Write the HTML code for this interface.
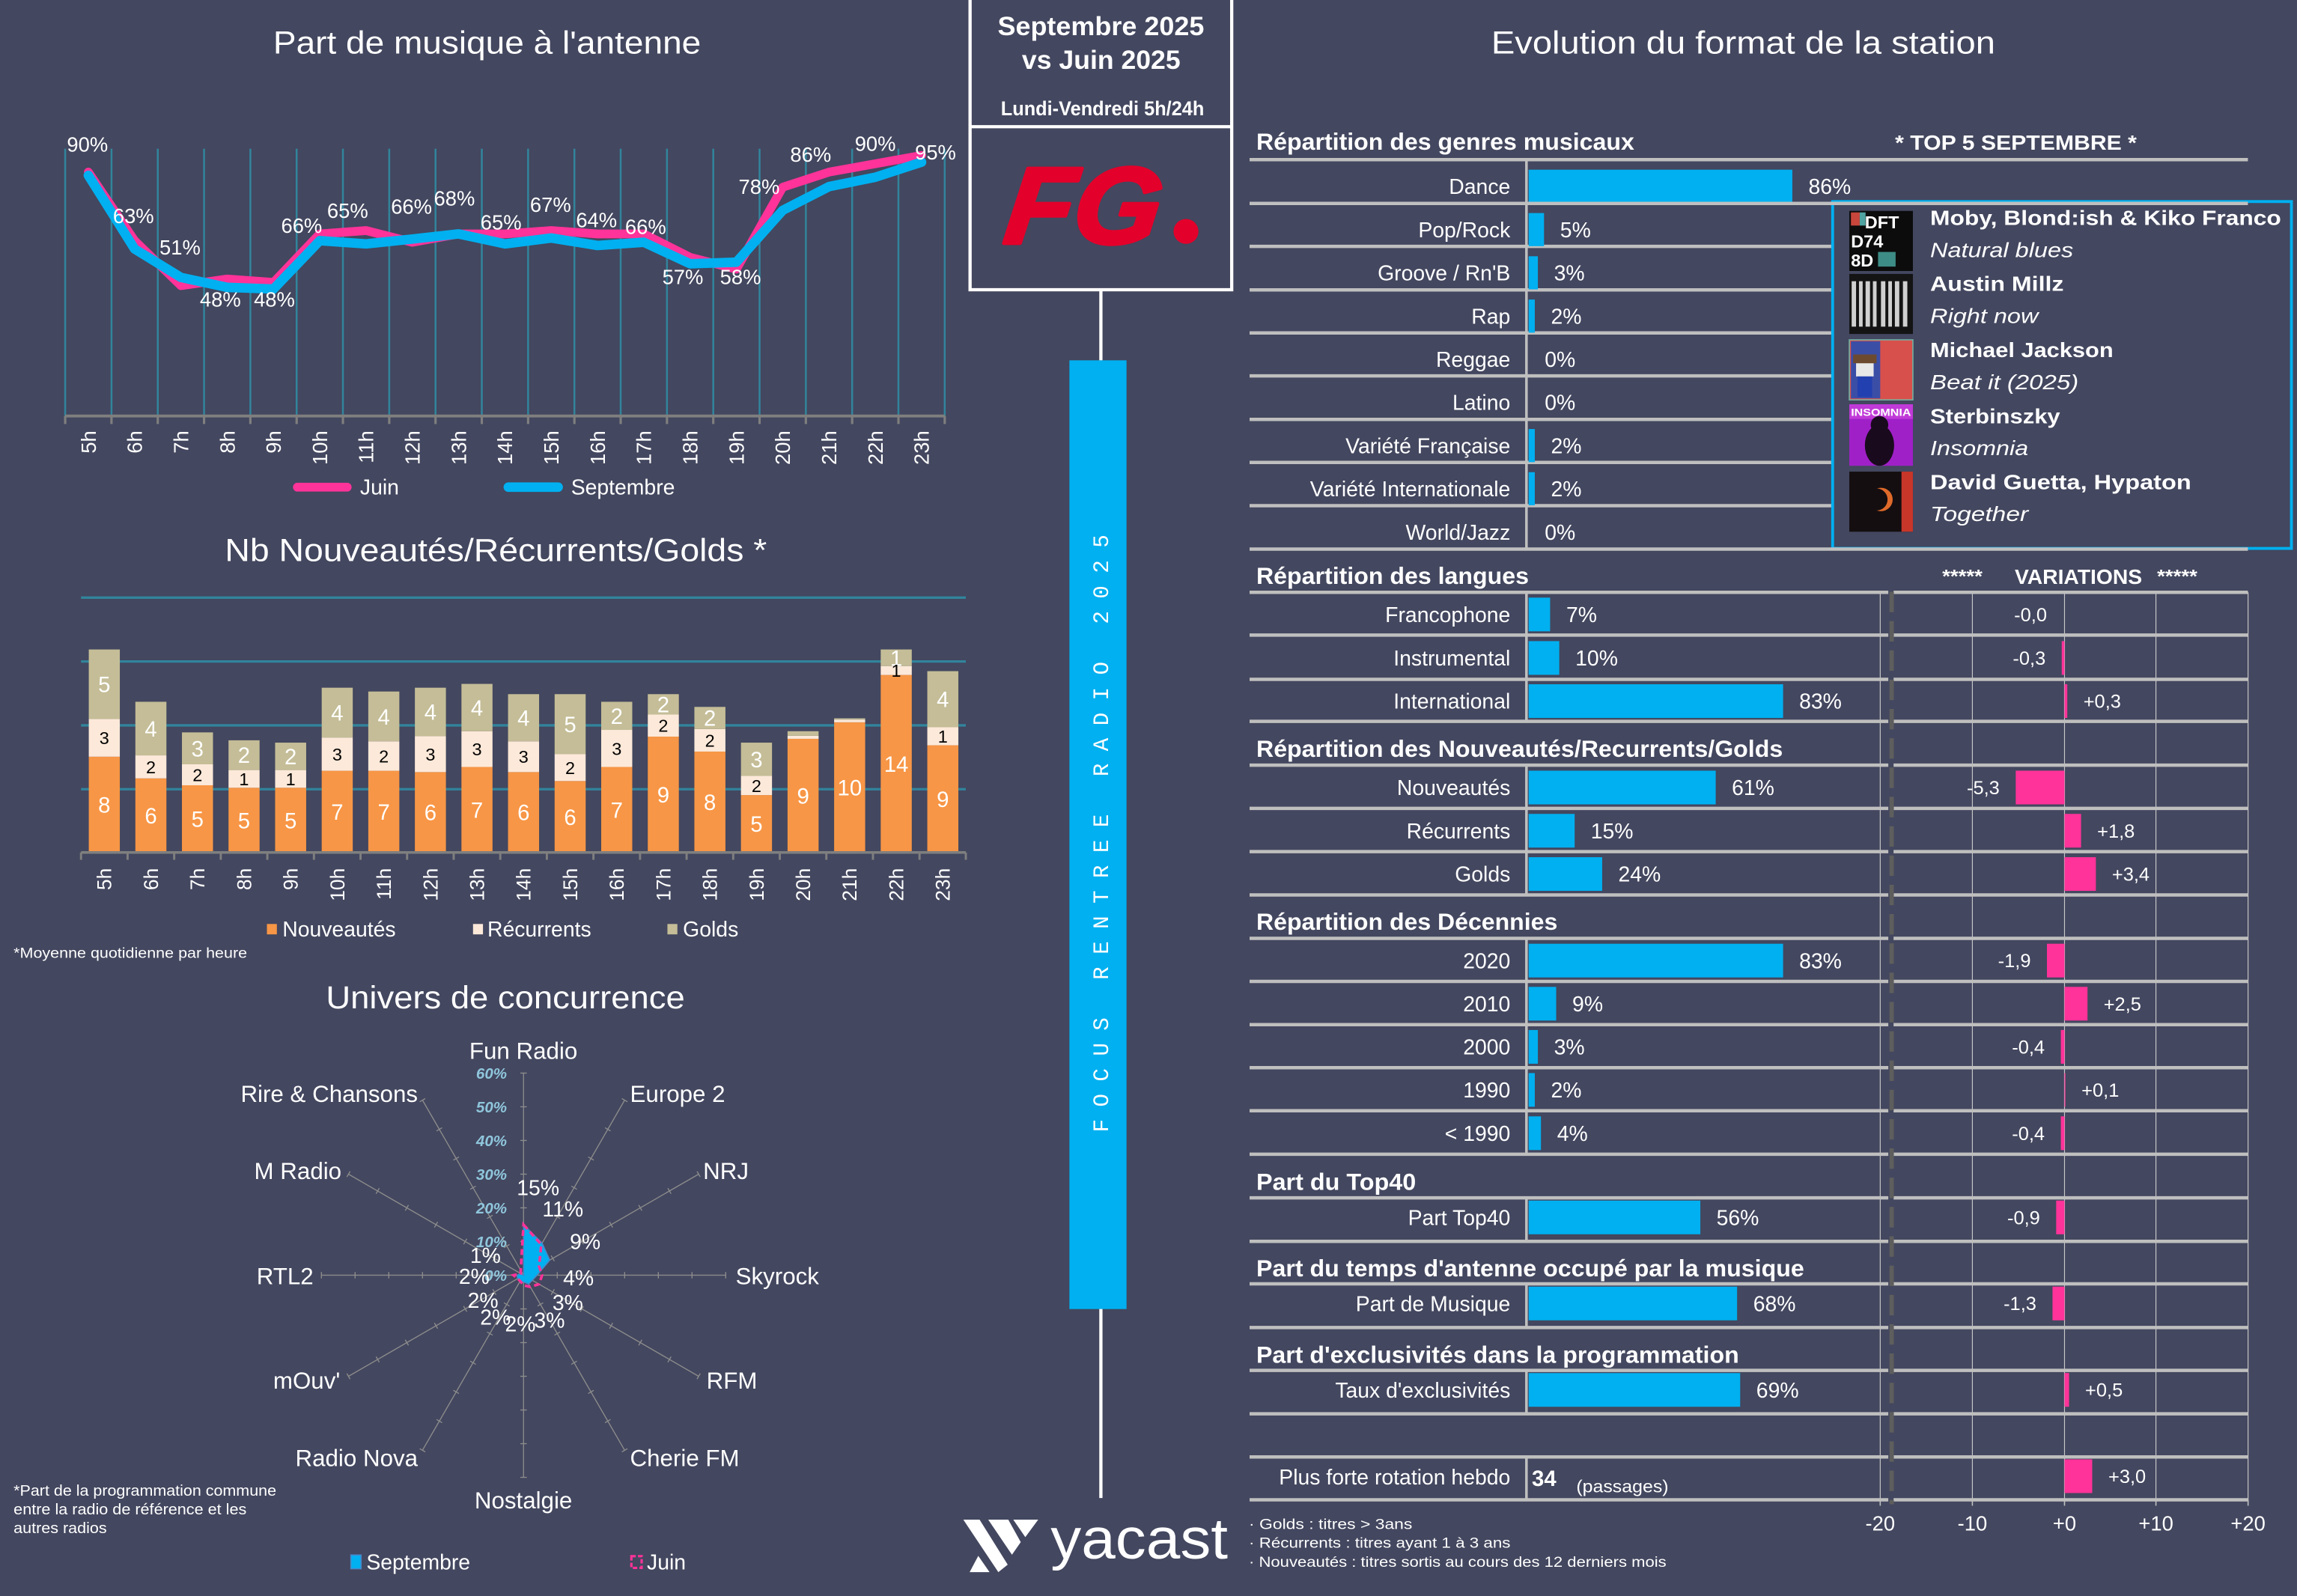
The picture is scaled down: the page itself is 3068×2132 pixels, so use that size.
<!DOCTYPE html>
<html><head><meta charset="utf-8"><style>html,body{margin:0;padding:0;background:#43475F;}svg{display:block}</style></head>
<body>
<svg xmlns="http://www.w3.org/2000/svg" width="3068" height="2132" viewBox="0 0 1568 1089.6" preserveAspectRatio="none" font-family="'Liberation Sans', Arial, sans-serif" fill="#FFFFFF">
<rect x="0" y="0" width="1568" height="1090" fill="#43475F"/>

<!-- ================= LINE CHART ================= -->
<text x="186.5" y="36.5" font-size="22" textLength="292" lengthAdjust="spacingAndGlyphs">Part de musique à l'antenne</text>
<g stroke="#31849B" stroke-width="1.3">
<line x1="44.5" y1="101.5" x2="44.5" y2="284"/><line x1="76.1" y1="101.5" x2="76.1" y2="284"/><line x1="107.7" y1="101.5" x2="107.7" y2="284"/><line x1="139.3" y1="101.5" x2="139.3" y2="284"/><line x1="170.9" y1="101.5" x2="170.9" y2="284"/><line x1="202.5" y1="101.5" x2="202.5" y2="284"/><line x1="234.1" y1="101.5" x2="234.1" y2="284"/><line x1="265.7" y1="101.5" x2="265.7" y2="284"/><line x1="297.3" y1="101.5" x2="297.3" y2="284"/><line x1="328.9" y1="101.5" x2="328.9" y2="284"/><line x1="360.5" y1="101.5" x2="360.5" y2="284"/><line x1="392.1" y1="101.5" x2="392.1" y2="284"/><line x1="423.7" y1="101.5" x2="423.7" y2="284"/><line x1="455.3" y1="101.5" x2="455.3" y2="284"/><line x1="486.9" y1="101.5" x2="486.9" y2="284"/><line x1="518.5" y1="101.5" x2="518.5" y2="284"/><line x1="550.1" y1="101.5" x2="550.1" y2="284"/><line x1="581.7" y1="101.5" x2="581.7" y2="284"/><line x1="613.3" y1="101.5" x2="613.3" y2="284"/><line x1="644.9" y1="101.5" x2="644.9" y2="284"/>
</g>
<g stroke="#7F7F7F" stroke-width="1.6">
<line x1="44.5" y1="284" x2="644.9" y2="284" stroke-width="2"/>
<line x1="44.5" y1="284" x2="44.5" y2="289.5"/><line x1="76.1" y1="284" x2="76.1" y2="289.5"/><line x1="107.7" y1="284" x2="107.7" y2="289.5"/><line x1="139.3" y1="284" x2="139.3" y2="289.5"/><line x1="170.9" y1="284" x2="170.9" y2="289.5"/><line x1="202.5" y1="284" x2="202.5" y2="289.5"/><line x1="234.1" y1="284" x2="234.1" y2="289.5"/><line x1="265.7" y1="284" x2="265.7" y2="289.5"/><line x1="297.3" y1="284" x2="297.3" y2="289.5"/><line x1="328.9" y1="284" x2="328.9" y2="289.5"/><line x1="360.5" y1="284" x2="360.5" y2="289.5"/><line x1="392.1" y1="284" x2="392.1" y2="289.5"/><line x1="423.7" y1="284" x2="423.7" y2="289.5"/><line x1="455.3" y1="284" x2="455.3" y2="289.5"/><line x1="486.9" y1="284" x2="486.9" y2="289.5"/><line x1="518.5" y1="284" x2="518.5" y2="289.5"/><line x1="550.1" y1="284" x2="550.1" y2="289.5"/><line x1="581.7" y1="284" x2="581.7" y2="289.5"/><line x1="613.3" y1="284" x2="613.3" y2="289.5"/><line x1="644.9" y1="284" x2="644.9" y2="289.5"/>
</g>
<polyline fill="none" stroke="#FF3399" stroke-width="6" stroke-linejoin="round" stroke-linecap="round" points="60.3,117.5 91.9,164.3 123.5,195 155.1,190.5 186.7,192.8 218.3,159.7 249.9,157.4 281.5,165.4 313.1,159.7 344.7,159.7 376.3,157.4 407.9,159.7 439.5,159.7 471.1,175.7 502.7,183.7 534.3,127.8 565.9,117.5 597.5,111.8 629.1,106.1"/>
<polyline fill="none" stroke="#00B0F0" stroke-width="6.5" stroke-linejoin="round" stroke-linecap="round" points="60.3,119.7 91.9,170 123.5,189.4 155.1,196.2 186.7,197.3 218.3,164.3 249.9,166.5 281.5,163.2 313.1,159.7 344.7,166.5 376.3,162.5 407.9,167.6 439.5,165.4 471.1,180.1 502.7,179 534.3,143.6 565.9,127.4 597.5,121 629.1,110.7"/>
<g font-size="14" text-anchor="middle">
<text x="59.7" y="103.6">90%</text><text x="91.1" y="152.2">63%</text><text x="122.9" y="173.8">51%</text><text x="150.4" y="209.2">48%</text><text x="187.3" y="209.2">48%</text><text x="205.9" y="159">66%</text><text x="237.3" y="148.7">65%</text><text x="280.9" y="146">66%</text><text x="310.2" y="140.3">68%</text><text x="342" y="156.7">65%</text><text x="375.8" y="144.6">67%</text><text x="407.2" y="155.1">64%</text><text x="440.7" y="159.7">66%</text><text x="466.1" y="193.9">57%</text><text x="505.5" y="193.9">58%</text><text x="518.2" y="132.3">78%</text><text x="553.4" y="110.4">86%</text><text x="597.5" y="103.1">90%</text><text x="638.6" y="108.8">95%</text>
</g>
<g font-size="14" text-anchor="end">
<text transform="translate(65.3,294) rotate(-90)">5h</text><text transform="translate(96.9,294) rotate(-90)">6h</text><text transform="translate(128.5,294) rotate(-90)">7h</text><text transform="translate(160.1,294) rotate(-90)">8h</text><text transform="translate(191.7,294) rotate(-90)">9h</text><text transform="translate(223.3,294) rotate(-90)">10h</text><text transform="translate(254.9,294) rotate(-90)">11h</text><text transform="translate(286.5,294) rotate(-90)">12h</text><text transform="translate(318.1,294) rotate(-90)">13h</text><text transform="translate(349.7,294) rotate(-90)">14h</text><text transform="translate(381.3,294) rotate(-90)">15h</text><text transform="translate(412.9,294) rotate(-90)">16h</text><text transform="translate(444.5,294) rotate(-90)">17h</text><text transform="translate(476.1,294) rotate(-90)">18h</text><text transform="translate(507.7,294) rotate(-90)">19h</text><text transform="translate(539.3,294) rotate(-90)">20h</text><text transform="translate(570.9,294) rotate(-90)">21h</text><text transform="translate(602.5,294) rotate(-90)">22h</text><text transform="translate(634.1,294) rotate(-90)">23h</text>
</g>
<line x1="203" y1="332.6" x2="237" y2="332.6" stroke="#FF3399" stroke-width="6" stroke-linecap="round"/>
<text x="245.8" y="337.6" font-size="14.5">Juin</text>
<line x1="347" y1="332.6" x2="381" y2="332.6" stroke="#00B0F0" stroke-width="6.5" stroke-linecap="round"/>
<text x="389.8" y="337.6" font-size="14.5">Septembre</text>

<!-- ================= BAR CHART ================= -->
<text x="153.5" y="383" font-size="22" textLength="370" lengthAdjust="spacingAndGlyphs">Nb Nouveautés/Récurrents/Golds *</text>
<g stroke="#31849B" stroke-width="1.7">
<line x1="55.3" y1="408" x2="659.3" y2="408"/><line x1="55.3" y1="451.6" x2="659.3" y2="451.6"/><line x1="55.3" y1="495.2" x2="659.3" y2="495.2"/><line x1="55.3" y1="538.8" x2="659.3" y2="538.8"/>
</g>
<g>
<g fill="#F79646">
<rect x="60.6" y="516.6" width="21.2" height="65.4"/><rect x="92.4" y="531.4" width="21.2" height="50.6"/><rect x="124.2" y="536.1" width="21.2" height="45.9"/><rect x="156" y="537.8" width="21.2" height="44.2"/><rect x="187.8" y="537.8" width="21.2" height="44.2"/><rect x="219.6" y="526.2" width="21.2" height="55.8"/><rect x="251.4" y="526.2" width="21.2" height="55.8"/><rect x="283.2" y="527.1" width="21.2" height="54.9"/><rect x="315" y="523.6" width="21.2" height="58.4"/><rect x="346.8" y="527.1" width="21.2" height="54.9"/><rect x="378.6" y="533.2" width="21.2" height="48.8"/><rect x="410.4" y="523.6" width="21.2" height="58.4"/><rect x="442.2" y="502.9" width="21.2" height="79.1"/><rect x="474" y="513.1" width="21.2" height="68.9"/><rect x="505.8" y="542.8" width="21.2" height="39.2"/><rect x="537.6" y="504.4" width="21.2" height="77.6"/><rect x="569.4" y="493.1" width="21.2" height="88.9"/><rect x="601.2" y="460.8" width="21.2" height="121.2"/><rect x="633" y="508.8" width="21.2" height="73.2"/>
</g>
<g fill="#FDE9D9">
<rect x="60.6" y="490.9" width="21.2" height="25.7"/><rect x="92.4" y="515.7" width="21.2" height="15.7"/><rect x="124.2" y="521.8" width="21.2" height="14.3"/><rect x="156" y="525.7" width="21.2" height="12.1"/><rect x="187.8" y="525.7" width="21.2" height="12.1"/><rect x="219.6" y="503.5" width="21.2" height="22.7"/><rect x="251.4" y="506.1" width="21.2" height="20.1"/><rect x="283.2" y="502.6" width="21.2" height="24.5"/><rect x="315" y="499.2" width="21.2" height="24.4"/><rect x="346.8" y="506.1" width="21.2" height="21"/><rect x="378.6" y="514.9" width="21.2" height="18.3"/><rect x="410.4" y="498.3" width="21.2" height="25.3"/><rect x="442.2" y="487.8" width="21.2" height="15.1"/><rect x="474" y="497.7" width="21.2" height="15.4"/><rect x="505.8" y="529.7" width="21.2" height="13.1"/><rect x="537.6" y="502.3" width="21.2" height="2.1"/><rect x="569.4" y="491.3" width="21.2" height="1.8"/><rect x="601.2" y="454.7" width="21.2" height="6.1"/><rect x="633" y="496.5" width="21.2" height="12.3"/>
</g>
<g fill="#C4BD97">
<rect x="60.6" y="443.4" width="21.2" height="47.5"/><rect x="92.4" y="479.1" width="21.2" height="36.6"/><rect x="124.2" y="500" width="21.2" height="21.8"/><rect x="156" y="505.4" width="21.2" height="20.3"/><rect x="187.8" y="507" width="21.2" height="18.7"/><rect x="219.6" y="469.5" width="21.2" height="34"/><rect x="251.4" y="472.1" width="21.2" height="34"/><rect x="283.2" y="469.5" width="21.2" height="33.1"/><rect x="315" y="466.9" width="21.2" height="32.3"/><rect x="346.8" y="473.9" width="21.2" height="32.2"/><rect x="378.6" y="473.9" width="21.2" height="41"/><rect x="410.4" y="479.1" width="21.2" height="19.2"/><rect x="442.2" y="473.9" width="21.2" height="13.9"/><rect x="474" y="482.6" width="21.2" height="15.1"/><rect x="505.8" y="507" width="21.2" height="22.7"/><rect x="537.6" y="499.2" width="21.2" height="3.1"/><rect x="569.4" y="490.4" width="21.2" height="0.9"/><rect x="601.2" y="443.4" width="21.2" height="11.3"/><rect x="633" y="458.2" width="21.2" height="38.3"/>
</g>
</g>
<g font-size="15" text-anchor="middle">
<text x="71.2" y="554.8">8</text><text x="103" y="562.2">6</text><text x="134.8" y="564.5">5</text><text x="166.6" y="565.4">5</text><text x="198.4" y="565.4">5</text><text x="230.2" y="559.6">7</text><text x="262" y="559.6">7</text><text x="293.8" y="560">6</text><text x="325.6" y="558.3">7</text><text x="357.4" y="560">6</text><text x="389.2" y="563.1">6</text><text x="421" y="558.3">7</text><text x="452.8" y="547.9">9</text><text x="484.6" y="553">8</text><text x="516.4" y="567.9">5</text><text x="548.2" y="548.7">9</text><text x="580" y="543">10</text><text x="611.8" y="526.9">14</text><text x="643.6" y="550.9">9</text>
<text x="71.2" y="472.6">5</text><text x="103" y="502.9">4</text><text x="134.8" y="516.4">3</text><text x="166.6" y="520.9">2</text><text x="198.4" y="521.8">2</text><text x="230.2" y="491.9">4</text><text x="262" y="494.6">4</text><text x="293.8" y="491.4">4</text><text x="325.6" y="488.5">4</text><text x="357.4" y="495.5">4</text><text x="389.2" y="499.9">5</text><text x="421" y="494.2">2</text><text x="452.8" y="486.3">2</text><text x="484.6" y="495.6">2</text><text x="516.4" y="523.8">3</text><text x="611.8" y="454.5">1</text><text x="643.6" y="482.8">4</text>
</g>
<g font-size="12" text-anchor="middle" fill="#000000">
<text x="71.2" y="508.1">3</text><text x="103" y="527.9">2</text><text x="134.8" y="533.3">2</text><text x="166.6" y="536.1">1</text><text x="198.4" y="536.1">1</text><text x="230.2" y="519.2">3</text><text x="262" y="520.5">2</text><text x="293.8" y="519.2">3</text><text x="325.6" y="515.7">3</text><text x="357.4" y="520.9">3</text><text x="389.2" y="528.4">2</text><text x="421" y="515.3">3</text><text x="452.8" y="499.7">2</text><text x="484.6" y="509.7">2</text><text x="516.4" y="540.6">2</text><text x="611.8" y="462">1</text><text x="643.6" y="507">1</text>
</g>
<g stroke="#7F7F7F" stroke-width="1.5">
<line x1="55.3" y1="582" x2="659.3" y2="582" stroke-width="1.8"/>
<line x1="55.3" y1="582" x2="55.3" y2="587"/><line x1="87.1" y1="582" x2="87.1" y2="587"/><line x1="118.9" y1="582" x2="118.9" y2="587"/><line x1="150.7" y1="582" x2="150.7" y2="587"/><line x1="182.5" y1="582" x2="182.5" y2="587"/><line x1="214.3" y1="582" x2="214.3" y2="587"/><line x1="246.1" y1="582" x2="246.1" y2="587"/><line x1="277.9" y1="582" x2="277.9" y2="587"/><line x1="309.7" y1="582" x2="309.7" y2="587"/><line x1="341.5" y1="582" x2="341.5" y2="587"/><line x1="373.3" y1="582" x2="373.3" y2="587"/><line x1="405.1" y1="582" x2="405.1" y2="587"/><line x1="436.9" y1="582" x2="436.9" y2="587"/><line x1="468.7" y1="582" x2="468.7" y2="587"/><line x1="500.5" y1="582" x2="500.5" y2="587"/><line x1="532.3" y1="582" x2="532.3" y2="587"/><line x1="564.1" y1="582" x2="564.1" y2="587"/><line x1="595.9" y1="582" x2="595.9" y2="587"/><line x1="627.7" y1="582" x2="627.7" y2="587"/><line x1="659.3" y1="582" x2="659.3" y2="587"/>
</g>
<g font-size="13.5" text-anchor="end">
<text transform="translate(76,592.7) rotate(-90)">5h</text><text transform="translate(107.8,592.7) rotate(-90)">6h</text><text transform="translate(139.6,592.7) rotate(-90)">7h</text><text transform="translate(171.4,592.7) rotate(-90)">8h</text><text transform="translate(203.2,592.7) rotate(-90)">9h</text><text transform="translate(235,592.7) rotate(-90)">10h</text><text transform="translate(266.8,592.7) rotate(-90)">11h</text><text transform="translate(298.6,592.7) rotate(-90)">12h</text><text transform="translate(330.4,592.7) rotate(-90)">13h</text><text transform="translate(362.2,592.7) rotate(-90)">14h</text><text transform="translate(394,592.7) rotate(-90)">15h</text><text transform="translate(425.8,592.7) rotate(-90)">16h</text><text transform="translate(457.6,592.7) rotate(-90)">17h</text><text transform="translate(489.4,592.7) rotate(-90)">18h</text><text transform="translate(521.2,592.7) rotate(-90)">19h</text><text transform="translate(553,592.7) rotate(-90)">20h</text><text transform="translate(584.8,592.7) rotate(-90)">21h</text><text transform="translate(616.6,592.7) rotate(-90)">22h</text><text transform="translate(648.4,592.7) rotate(-90)">23h</text>
</g>
<rect x="182.2" y="630.8" width="6.8" height="7.1" fill="#F79646"/>
<text x="192.8" y="639.4" font-size="14.5">Nouveautés</text>
<rect x="322.9" y="630.8" width="6.8" height="7.1" fill="#FDE9D9"/>
<text x="332.7" y="639.4" font-size="14.5">Récurrents</text>
<rect x="455.6" y="630.8" width="6.8" height="7.1" fill="#C4BD97"/>
<text x="466.2" y="639.4" font-size="14.5">Golds</text>
<text x="9.3" y="654" font-size="10" textLength="159.4" lengthAdjust="spacingAndGlyphs">*Moyenne quotidienne par heure</text>

<!-- ================= RADAR ================= -->
<text x="222.5" y="688.3" font-size="22" textLength="245" lengthAdjust="spacingAndGlyphs">Univers de concurrence</text>
<defs>
<g id="ax" stroke="#8C8C8C" stroke-width="0.7">
<line x1="357.4" y1="870.6" x2="357.4" y2="732.6"/>
<line x1="355.2" y1="847.6" x2="359.6" y2="847.6"/><line x1="355.2" y1="824.6" x2="359.6" y2="824.6"/><line x1="355.2" y1="801.6" x2="359.6" y2="801.6"/><line x1="355.2" y1="778.6" x2="359.6" y2="778.6"/><line x1="355.2" y1="755.6" x2="359.6" y2="755.6"/><line x1="355.2" y1="732.6" x2="359.6" y2="732.6"/>
</g>
</defs>
<use href="#ax"/>
<use href="#ax" transform="rotate(30 357.4 870.6)"/>
<use href="#ax" transform="rotate(60 357.4 870.6)"/>
<use href="#ax" transform="rotate(90 357.4 870.6)"/>
<use href="#ax" transform="rotate(120 357.4 870.6)"/>
<use href="#ax" transform="rotate(150 357.4 870.6)"/>
<use href="#ax" transform="rotate(180 357.4 870.6)"/>
<use href="#ax" transform="rotate(210 357.4 870.6)"/>
<use href="#ax" transform="rotate(240 357.4 870.6)"/>
<use href="#ax" transform="rotate(270 357.4 870.6)"/>
<use href="#ax" transform="rotate(300 357.4 870.6)"/>
<use href="#ax" transform="rotate(330 357.4 870.6)"/>
<g font-size="10.5" font-style="italic" font-weight="bold" fill="#8FC6DC" text-anchor="end">
<text x="346" y="736.4">60%</text><text x="346" y="759.4">50%</text><text x="346" y="782.4">40%</text><text x="346" y="805.4">30%</text><text x="346" y="828.4">20%</text><text x="346" y="851.4">10%</text><text x="346" y="874.4">0%</text>
</g>
<polygon points="357.4,836.1 370.05,848.7 375.3,860.25 366.6,870.6 363.4,874.05 360.85,876.6 357.4,875.2 355.1,874.6 353.4,872.9 352.8,870.6 355.4,869.45 357.4,870.6" fill="#00B0F0" stroke="#4A86C8" stroke-width="0.8"/>
<polygon points="357.4,836.1 369.5,849.7 367.96,864.5 370.05,870.6 367.96,876.7 362,878.57 357.4,877.5 355.1,874.6 353.4,872.9 350.5,870.6 355.4,869.45 355.45,867.2" fill="none" stroke="#FF3399" stroke-width="1.8" stroke-dasharray="4 2.5"/>
<g font-size="14.5" text-anchor="middle">
<text x="367.3" y="815.8">15%</text><text x="384.2" y="830.6">11%</text><text x="399.5" y="852.7">9%</text><text x="394.9" y="877.5">4%</text><text x="387.6" y="894.5">3%</text><text x="375.1" y="906.4">3%</text><text x="355.2" y="909">2%</text><text x="338.2" y="904.4">2%</text><text x="329.7" y="892.8">2%</text><text x="323.7" y="876.6">2%</text><text x="331.4" y="862.2">1%</text>
</g>
<g font-size="16">
<text x="357.3" y="723" text-anchor="middle">Fun Radio</text>
<text x="430.1" y="752.3">Europe 2</text>
<text x="480" y="804.9">NRJ</text>
<text x="502.2" y="876.7">Skyrock</text>
<text x="482.3" y="948.1">RFM</text>
<text x="430.1" y="1000.9">Cherie FM</text>
<text x="357.3" y="1029.9" text-anchor="middle">Nostalgie</text>
<text x="285.2" y="1000.9" text-anchor="end">Radio Nova</text>
<text x="232.2" y="948.1" text-anchor="end">mOuv'</text>
<text x="214" y="876.7" text-anchor="end">RTL2</text>
<text x="233.1" y="804.9" text-anchor="end">M Radio</text>
<text x="285.2" y="752.3" text-anchor="end">Rire &amp; Chansons</text>
</g>
<g font-size="10.5">
<text x="9.3" y="1021" textLength="179.3" lengthAdjust="spacingAndGlyphs">*Part de la programmation commune</text>
<text x="9.3" y="1034" textLength="159" lengthAdjust="spacingAndGlyphs">entre la radio de référence et les</text>
<text x="9.3" y="1046.6" textLength="63.6" lengthAdjust="spacingAndGlyphs">autres radios</text>
</g>
<rect x="239.5" y="1061.6" width="7" height="9.4" fill="#00B0F0" stroke="#4A86C8" stroke-width="0.8"/>
<text x="250.1" y="1071.5" font-size="14.5">Septembre</text>
<rect x="431" y="1062.4" width="7" height="8" fill="none" stroke="#FF3399" stroke-width="1.6" stroke-dasharray="3 1.5"/>
<text x="441.6" y="1071.5" font-size="14.5">Juin</text>

<!-- ================= CENTER COLUMN ================= -->
<rect x="662.2" y="-2" width="178.6" height="199.8" fill="none" stroke="#FFFFFF" stroke-width="2.2"/>
<line x1="662.2" y1="86.5" x2="840.8" y2="86.5" stroke="#FFFFFF" stroke-width="2.2"/>
<g font-weight="bold">
<text x="681" y="23.9" font-size="18" textLength="141" lengthAdjust="spacingAndGlyphs">Septembre 2025</text>
<text x="697.6" y="46.9" font-size="18" textLength="108.2" lengthAdjust="spacingAndGlyphs">vs Juin 2025</text>
<text x="683.2" y="78.7" font-size="13.5" textLength="138.8" lengthAdjust="spacingAndGlyphs">Lundi-Vendredi 5h/24h</text>
</g>
<text transform="translate(684,166) skewX(-7)" x="0" y="0" font-size="74" font-weight="bold" font-style="italic" fill="#E3002B" stroke="#E3002B" stroke-width="2.6" stroke-linejoin="round" textLength="106" lengthAdjust="spacingAndGlyphs">FG</text>
<circle cx="809.6" cy="158" r="8.5" fill="#E3002B"/>
<line x1="751.5" y1="197.8" x2="751.5" y2="246" stroke="#FFFFFF" stroke-width="2.2"/>
<rect x="730" y="246" width="39" height="647.7" fill="#00B0F0"/>
<text transform="translate(756.3,773) rotate(-90)" font-family="'Liberation Mono', monospace" font-size="15" textLength="408" lengthAdjust="spacing">FOCUS  RENTREE  RADIO  2025</text>
<line x1="751.5" y1="893.7" x2="751.5" y2="1022.7" stroke="#FFFFFF" stroke-width="2.2"/>
<polygon points="657.6,1037.5 668.7,1037.5 687.9,1068.2 681.5,1073.3"/>
<polygon points="674.6,1037.5 688.3,1037.5 696.8,1052.8 690.8,1061.4"/>
<polygon points="691.7,1037.5 708.7,1037.5 699.9,1049.4"/>
<polygon points="661.9,1073.3 675.5,1073.3 667.8,1062.2"/>
<text x="717.2" y="1064" font-size="39.5" textLength="121" lengthAdjust="spacingAndGlyphs">yacast</text>

<!-- ================= RIGHT PANEL ================= -->
<text x="1018" y="36.5" font-size="22" textLength="344" lengthAdjust="spacingAndGlyphs">Evolution du format de la station</text>

<g font-weight="bold" font-size="16">
<text x="857.6" y="102.1" textLength="258" lengthAdjust="spacingAndGlyphs">Répartition des genres musicaux</text>
<text x="1293.6" y="102.1" font-size="14" textLength="165" lengthAdjust="spacingAndGlyphs">*  TOP 5  SEPTEMBRE *</text>
</g>
<g stroke="#BFBFBF" stroke-width="2.3">
<line x1="853" y1="168.2" x2="1251" y2="168.2"/><line x1="853" y1="197.9" x2="1251" y2="197.9"/><line x1="853" y1="227.3" x2="1251" y2="227.3"/><line x1="853" y1="256.6" x2="1251" y2="256.6"/><line x1="853" y1="286.3" x2="1251" y2="286.3"/><line x1="853" y1="315.7" x2="1251" y2="315.7"/><line x1="853" y1="345.2" x2="1251" y2="345.2"/>
</g>
<line x1="1042" y1="109" x2="1042" y2="374.9" stroke="#BFBFBF" stroke-width="1.8"/>
<g fill="#00B0F0">
<rect x="1043.5" y="115.85" width="180" height="22.6"/><rect x="1043.5" y="145.45" width="10.5" height="22.6"/><rect x="1043.5" y="174.95" width="6.3" height="22.6"/><rect x="1043.5" y="204.5" width="4.2" height="22.6"/><rect x="1043.5" y="292.9" width="4.2" height="22.6"/><rect x="1043.5" y="322.35" width="4.2" height="22.6"/>
</g>
<g font-size="14.5" text-anchor="end">
<text x="1031" y="132.35">Dance</text><text x="1031" y="161.95">Pop/Rock</text><text x="1031" y="191.45">Groove / Rn'B</text><text x="1031" y="221">Rap</text><text x="1031" y="250.35">Reggae</text><text x="1031" y="279.85">Latino</text><text x="1031" y="309.4">Variété Française</text><text x="1031" y="338.85">Variété Internationale</text><text x="1031" y="368.45">World/Jazz</text>
</g>
<g font-size="14.5">
<text x="1234.5" y="132.35">86%</text><text x="1065" y="161.95">5%</text><text x="1060.8" y="191.45">3%</text><text x="1058.7" y="221">2%</text><text x="1054.5" y="250.35">0%</text><text x="1054.5" y="279.85">0%</text><text x="1058.7" y="309.4">2%</text><text x="1058.7" y="338.85">2%</text><text x="1054.5" y="368.45">0%</text>
</g>
<rect x="1251" y="137.6" width="313.2" height="236.8" fill="#43475F" stroke="#00B0F0" stroke-width="2"/>
<g stroke="#BFBFBF" stroke-width="2.3">
<line x1="853" y1="109" x2="1534.5" y2="109"/><line x1="853" y1="138.9" x2="1534.5" y2="138.9"/><line x1="853" y1="374.9" x2="1534.5" y2="374.9"/>
</g>
<rect x="1262.4" y="144" width="43.4" height="41" fill="#0C0C0C"/>
<rect x="1263.5" y="145" width="6" height="9" fill="#C8463C"/><rect x="1269.5" y="145" width="4" height="9" fill="#4FA3A0"/>
<g font-weight="bold" font-size="12"><text x="1273" y="156">DFT</text><text x="1263.5" y="169">D74</text><text x="1263.5" y="182">8D</text></g>
<rect x="1282" y="172" width="12" height="10" fill="#3D8C86"/>
<rect x="1262.4" y="187" width="43.4" height="41" fill="#141414"/>
<g fill="#D0D0D0"><rect x="1264" y="192" width="3" height="31"/><rect x="1269" y="192" width="2.5" height="31"/><rect x="1273.5" y="192" width="3" height="31"/><rect x="1278.5" y="192" width="2.5" height="31"/><rect x="1284" y="192" width="3" height="31"/><rect x="1289" y="192" width="2.5" height="31"/><rect x="1293.5" y="192" width="3" height="31"/><rect x="1299" y="192" width="3" height="31"/></g>
<rect x="1262.4" y="232" width="43.4" height="41" fill="#D8504C" stroke="#6FB3A4" stroke-width="0.8"/>
<rect x="1263.5" y="233" width="20" height="39" fill="#3B4EA6"/>
<rect x="1267" y="245" width="12" height="12" fill="#E8E8E8"/><rect x="1265" y="242" width="16" height="6" fill="#6B4A30"/><rect x="1268" y="257" width="10" height="14" fill="#2340B0"/>
<rect x="1262.4" y="276" width="43.4" height="42" fill="#A020C8"/>
<rect x="1262.4" y="276" width="43.4" height="10" fill="#C03AD8"/>
<text x="1263.5" y="284" font-size="7" font-weight="bold" textLength="41" lengthAdjust="spacingAndGlyphs">INSOMNIA</text>
<ellipse cx="1283" cy="304" rx="10" ry="14" fill="#1A0A1E"/><circle cx="1283" cy="290" r="6" fill="#1A0A1E"/>
<rect x="1262.4" y="322" width="43.4" height="41" fill="#150E10"/>
<circle cx="1284" cy="341" r="8" fill="#E06A2A"/><circle cx="1281" cy="341" r="7.5" fill="#150E10"/>
<rect x="1298" y="322" width="7.8" height="41" fill="#C8362A"/>
<g font-size="14" font-weight="bold">
<text x="1317.6" y="153.5" textLength="239.6" lengthAdjust="spacingAndGlyphs">Moby, Blond:ish &amp; Kiko Franco</text>
<text x="1317.6" y="198.6" textLength="91.2" lengthAdjust="spacingAndGlyphs">Austin Millz</text>
<text x="1317.6" y="243.8" textLength="125" lengthAdjust="spacingAndGlyphs">Michael Jackson</text>
<text x="1317.6" y="289" textLength="88.7" lengthAdjust="spacingAndGlyphs">Sterbinszky</text>
<text x="1317.6" y="334" textLength="178.2" lengthAdjust="spacingAndGlyphs">David Guetta, Hypaton</text>
</g>
<g font-size="14" font-style="italic">
<text x="1317.6" y="175.6" textLength="97.7" lengthAdjust="spacingAndGlyphs">Natural blues</text>
<text x="1317.6" y="220.6" textLength="73.8" lengthAdjust="spacingAndGlyphs">Right now</text>
<text x="1317.6" y="265.8" textLength="101.3" lengthAdjust="spacingAndGlyphs">Beat it (2025)</text>
<text x="1317.6" y="310.8" textLength="67" lengthAdjust="spacingAndGlyphs">Insomnia</text>
<text x="1317.6" y="355.8" textLength="67" lengthAdjust="spacingAndGlyphs">Together</text>
</g>

<g stroke="#C8C8C8" stroke-width="0.6">
<line x1="1283.5" y1="404.4" x2="1283.5" y2="1027"/><line x1="1346.4" y1="404.4" x2="1346.4" y2="1027"/><line x1="1409.3" y1="404.4" x2="1409.3" y2="1027"/><line x1="1471.7" y1="404.4" x2="1471.7" y2="1027"/><line x1="1534.6" y1="404.4" x2="1534.6" y2="1027"/>
</g>
<g stroke="#BFBFBF" stroke-width="2.3">
<line x1="853" y1="404.4" x2="1289" y2="404.4"/><line x1="1292.6" y1="404.4" x2="1534.5" y2="404.4"/>
<line x1="853" y1="433.6" x2="1289" y2="433.6"/><line x1="1292.6" y1="433.6" x2="1534.5" y2="433.6"/>
<line x1="853" y1="463.8" x2="1289" y2="463.8"/><line x1="1292.6" y1="463.8" x2="1534.5" y2="463.8"/>
<line x1="853" y1="492.5" x2="1289" y2="492.5"/><line x1="1292.6" y1="492.5" x2="1534.5" y2="492.5"/>
<line x1="853" y1="522.4" x2="1289" y2="522.4"/><line x1="1292.6" y1="522.4" x2="1534.5" y2="522.4"/>
<line x1="853" y1="551.9" x2="1289" y2="551.9"/><line x1="1292.6" y1="551.9" x2="1534.5" y2="551.9"/>
<line x1="853" y1="581.4" x2="1289" y2="581.4"/><line x1="1292.6" y1="581.4" x2="1534.5" y2="581.4"/>
<line x1="853" y1="611" x2="1289" y2="611"/><line x1="1292.6" y1="611" x2="1534.5" y2="611"/>
<line x1="853" y1="640.6" x2="1289" y2="640.6"/><line x1="1292.6" y1="640.6" x2="1534.5" y2="640.6"/>
<line x1="853" y1="670" x2="1289" y2="670"/><line x1="1292.6" y1="670" x2="1534.5" y2="670"/>
<line x1="853" y1="699.5" x2="1289" y2="699.5"/><line x1="1292.6" y1="699.5" x2="1534.5" y2="699.5"/>
<line x1="853" y1="728.9" x2="1289" y2="728.9"/><line x1="1292.6" y1="728.9" x2="1534.5" y2="728.9"/>
<line x1="853" y1="758.3" x2="1289" y2="758.3"/><line x1="1292.6" y1="758.3" x2="1534.5" y2="758.3"/>
<line x1="853" y1="788" x2="1289" y2="788"/><line x1="1292.6" y1="788" x2="1534.5" y2="788"/>
<line x1="853" y1="817.8" x2="1289" y2="817.8"/><line x1="1292.6" y1="817.8" x2="1534.5" y2="817.8"/>
<line x1="853" y1="847.5" x2="1289" y2="847.5"/><line x1="1292.6" y1="847.5" x2="1534.5" y2="847.5"/>
<line x1="853" y1="876.5" x2="1289" y2="876.5"/><line x1="1292.6" y1="876.5" x2="1534.5" y2="876.5"/>
<line x1="853" y1="906.3" x2="1289" y2="906.3"/><line x1="1292.6" y1="906.3" x2="1534.5" y2="906.3"/>
<line x1="853" y1="935.6" x2="1289" y2="935.6"/><line x1="1292.6" y1="935.6" x2="1534.5" y2="935.6"/>
<line x1="853" y1="965.2" x2="1289" y2="965.2"/><line x1="1292.6" y1="965.2" x2="1534.5" y2="965.2"/>
<line x1="853" y1="994.7" x2="1289" y2="994.7"/><line x1="1292.6" y1="994.7" x2="1534.5" y2="994.7"/>
<line x1="853" y1="1023.9" x2="1289" y2="1023.9"/><line x1="1292.6" y1="1023.9" x2="1534.5" y2="1023.9"/>
</g>
<g stroke="#BFBFBF" stroke-width="1.8">
<line x1="1042" y1="404.4" x2="1042" y2="492.5"/><line x1="1042" y1="522.4" x2="1042" y2="611"/><line x1="1042" y1="640.6" x2="1042" y2="788"/><line x1="1042" y1="817.8" x2="1042" y2="847.5"/><line x1="1042" y1="876.5" x2="1042" y2="906.3"/><line x1="1042" y1="935.6" x2="1042" y2="965.2"/><line x1="1042" y1="994.7" x2="1042" y2="1023.9"/>
</g>
<line x1="1291.3" y1="404" x2="1291.3" y2="1027" stroke="#5E5E5E" stroke-width="3" stroke-dasharray="14 6"/>
<g stroke="#BFBFBF" stroke-width="0.8">
<line x1="1283.5" y1="1024" x2="1283.5" y2="1028"/><line x1="1346.4" y1="1024" x2="1346.4" y2="1028"/><line x1="1409.3" y1="1024" x2="1409.3" y2="1028"/><line x1="1471.7" y1="1024" x2="1471.7" y2="1028"/><line x1="1534.6" y1="1024" x2="1534.6" y2="1028"/>
</g>

<g font-weight="bold" font-size="16">
<text x="857.6" y="398.7" textLength="186" lengthAdjust="spacingAndGlyphs">Répartition des langues</text>
<text x="857.6" y="516.7" textLength="359.4" lengthAdjust="spacingAndGlyphs">Répartition des Nouveautés/Recurrents/Golds</text>
<text x="857.6" y="634.7" textLength="205.6" lengthAdjust="spacingAndGlyphs">Répartition des Décennies</text>
<text x="857.6" y="812.3" textLength="109" lengthAdjust="spacingAndGlyphs">Part du Top40</text>
<text x="857.6" y="871.4" textLength="374" lengthAdjust="spacingAndGlyphs">Part du temps d'antenne occupé par la musique</text>
<text x="857.6" y="930.4" textLength="329.5" lengthAdjust="spacingAndGlyphs">Part d'exclusivités dans la programmation</text>
</g>
<g font-weight="bold" font-size="13">
<text x="1325.8" y="398" textLength="27.5" lengthAdjust="spacingAndGlyphs">*****</text>
<text x="1375.3" y="398.7" font-size="14" textLength="87" lengthAdjust="spacingAndGlyphs">VARIATIONS</text>
<text x="1472.5" y="398" textLength="27.5" lengthAdjust="spacingAndGlyphs">*****</text>
</g>

<g fill="#00B0F0">
<rect x="1043.5" y="408" width="14.65" height="23"/>
<rect x="1043.5" y="437.7" width="20.9" height="23"/>
<rect x="1043.5" y="467.15" width="173.7" height="23"/>
<rect x="1043.5" y="526.15" width="127.7" height="23"/>
<rect x="1043.5" y="555.65" width="31.4" height="23"/>
<rect x="1043.5" y="585.2" width="50.2" height="23"/>
<rect x="1043.5" y="644.3" width="173.7" height="23"/>
<rect x="1043.5" y="673.75" width="18.8" height="23"/>
<rect x="1043.5" y="703.2" width="6.3" height="23"/>
<rect x="1043.5" y="732.6" width="4.2" height="23"/>
<rect x="1043.5" y="762.15" width="8.4" height="23"/>
<rect x="1043.5" y="819.65" width="117.2" height="23"/>
<rect x="1043.5" y="878.4" width="142.3" height="23"/>
<rect x="1043.5" y="937.4" width="144.4" height="23"/>
</g>
<g fill="#FF3399">
<rect x="1407.4" y="437.7" width="1.9" height="23"/>
<rect x="1409.3" y="467.15" width="1.9" height="23"/>
<rect x="1376" y="526.15" width="33.3" height="23"/>
<rect x="1409.3" y="555.65" width="11.3" height="23"/>
<rect x="1409.3" y="585.2" width="21.4" height="23"/>
<rect x="1397.3" y="644.3" width="12" height="23"/>
<rect x="1409.3" y="673.75" width="15.7" height="23"/>
<rect x="1406.8" y="703.2" width="2.5" height="23"/>
<rect x="1409.3" y="732.6" width="0.6" height="23"/>
<rect x="1406.8" y="762.15" width="2.5" height="23"/>
<rect x="1403.6" y="819.65" width="5.7" height="23"/>
<rect x="1401.1" y="878.4" width="8.2" height="23"/>
<rect x="1409.3" y="937.4" width="3.1" height="23"/>
<rect x="1409.3" y="996.3" width="18.9" height="23"/>
</g>
<g font-size="14.5" text-anchor="end">
<text x="1031" y="424.7">Francophone</text>
<text x="1031" y="454.4">Instrumental</text>
<text x="1031" y="483.85">International</text>
<text x="1031" y="542.85">Nouveautés</text>
<text x="1031" y="572.35">Récurrents</text>
<text x="1031" y="601.9">Golds</text>
<text x="1031" y="661">2020</text>
<text x="1031" y="690.45">2010</text>
<text x="1031" y="719.9">2000</text>
<text x="1031" y="749.3">1990</text>
<text x="1031" y="778.85">&lt; 1990</text>
<text x="1031" y="836.35">Part Top40</text>
<text x="1031" y="895.1">Part de Musique</text>
<text x="1031" y="954.1">Taux d'exclusivités</text>
<text x="1031" y="1013.5">Plus forte rotation hebdo</text>
</g>
<g font-size="14.5">
<text x="1069.2" y="424.7">7%</text>
<text x="1075.4" y="454.4">10%</text>
<text x="1228.2" y="483.85">83%</text>
<text x="1182.2" y="542.85">61%</text>
<text x="1085.9" y="572.35">15%</text>
<text x="1104.7" y="601.9">24%</text>
<text x="1228.2" y="661">83%</text>
<text x="1073.3" y="690.45">9%</text>
<text x="1060.8" y="719.9">3%</text>
<text x="1058.7" y="749.3">2%</text>
<text x="1062.9" y="778.85">4%</text>
<text x="1171.7" y="836.35">56%</text>
<text x="1196.8" y="895.1">68%</text>
<text x="1198.9" y="954.1">69%</text>
</g>
<text x="1045.7" y="1014.6" font-size="15" font-weight="bold">34</text>
<text x="1076" y="1018.8" font-size="12" textLength="63" lengthAdjust="spacingAndGlyphs">(passages)</text>
<g font-size="13" text-anchor="end">
<text x="1397.3" y="424.1">-0,0</text>
<text x="1396.4" y="453.8">-0,3</text>
<text x="1365" y="542.3">-5,3</text>
<text x="1386.3" y="660.4">-1,9</text>
<text x="1395.8" y="719.3">-0,4</text>
<text x="1395.8" y="778.3">-0,4</text>
<text x="1392.6" y="835.8">-0,9</text>
<text x="1390.1" y="894.5">-1,3</text>
</g>
<g font-size="13">
<text x="1422.2" y="483.3">+0,3</text>
<text x="1431.6" y="571.8">+1,8</text>
<text x="1441.7" y="601.3">+3,4</text>
<text x="1436" y="689.9">+2,5</text>
<text x="1420.9" y="748.7">+0,1</text>
<text x="1423.4" y="953.5">+0,5</text>
<text x="1439.2" y="1012.4">+3,0</text>
</g>
<g font-size="14" text-anchor="middle">
<text x="1283.5" y="1045">-20</text><text x="1346.4" y="1045">-10</text><text x="1409.3" y="1045">+0</text><text x="1471.7" y="1045">+10</text><text x="1534.6" y="1045">+20</text>
</g>
<g font-size="10">
<text x="852.5" y="1043.8" textLength="111.6" lengthAdjust="spacingAndGlyphs">· Golds : titres &gt; 3ans</text>
<text x="852.5" y="1056.6" textLength="178.6" lengthAdjust="spacingAndGlyphs">· Récurrents : titres ayant 1 à 3 ans</text>
<text x="852.5" y="1069.7" textLength="285" lengthAdjust="spacingAndGlyphs">· Nouveautés : titres sortis au cours des 12 derniers mois</text>
</g>
</svg>
</body></html>
